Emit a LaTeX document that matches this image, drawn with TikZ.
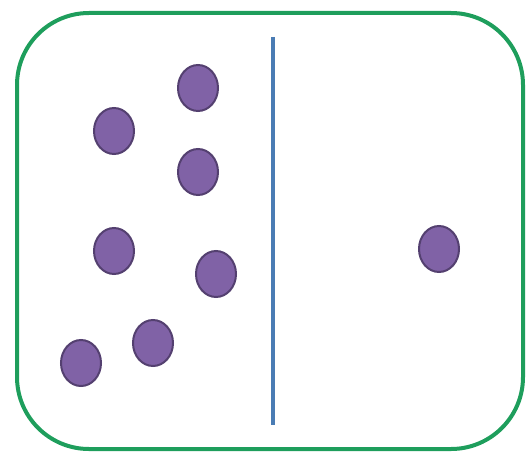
\documentclass[tikz,border=0pt]{standalone}
\usepackage{tikz}
\usetikzlibrary{shapes.geometric, positioning}
\usepackage{xcolor}
\definecolor{boxgreen}{RGB}{30,158,92}
\definecolor{wallblue}{RGB}{74,124,180}
\definecolor{dotfill}{RGB}{128,98,166}
\definecolor{dotedge}{RGB}{84,64,112}

\begin{document}
\begin{tikzpicture}[x=1pt, y=-1pt,
  particle/.style={ellipse, draw=dotedge, fill=dotfill, line width=2pt,
    minimum width=40pt, minimum height=46pt, inner sep=0pt}]
  \useasboundingbox (0,0) rectangle (526,454);
  \draw[boxgreen, line width=4pt, rounded corners=72pt] (17,13) rectangle (523,449);
  \coordinate (walltop) at (273,37);
  \coordinate (wallbot) at (273,425);
  \draw[wallblue, line width=4pt] (walltop) -- (wallbot);
  % particles on the left
  \node[particle] (p1) at (198,88) {};
  \node[particle] (p2) at (114,131) {};
  \node[particle] (p3) at (198,172) {};
  \node[particle] (p4) at (114,251) {};
  \node[particle] (p5) at (216,274) {};
  \node[particle] (p6) at (153,343) {};
  \node[particle] (p7) at (81,363) {};
  % the one on the right
  \node[particle] (p8) at (439,249) {};
\end{tikzpicture}
\end{document}
